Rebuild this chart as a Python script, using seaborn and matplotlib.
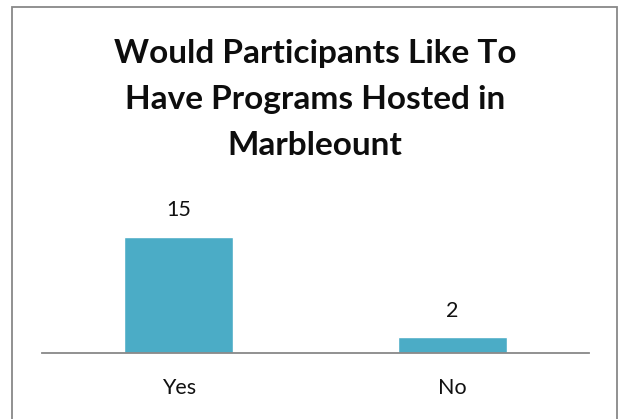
import matplotlib
matplotlib.use("Agg")
import matplotlib.pyplot as plt
import seaborn as sns
from matplotlib.patches import Rectangle

categories = ["Yes", "No"]
values = [15, 2]
title_lines = ["Would Participants Like To", "Have Programs Hosted in", "Marbleount"]

sns.set_style("white")
plt.rcParams['font.family'] = ['Lato', 'DejaVu Sans']

W, H = 620, 419
fig = plt.figure(figsize=(W/100, H/100), dpi=100)
base_y = 352.7
ppu = 7.73
ymax = 16
ax = fig.add_axes([42/W, (H-base_y)/H, 547/W, ymax*ppu/H])
sns.barplot(x=categories, y=values, color="#4BACC6", width=0.4, saturation=1, ax=ax)
ax.set_ylim(0, ymax)
ax.set_xlim(-0.5, 1.5)
for s in ["left", "top", "right"]:
    ax.spines[s].set_visible(False)
ax.spines["bottom"].set_color("#888888")
ax.spines["bottom"].set_linewidth(1.3)
ax.set_yticks([])
ax.tick_params(axis="x", length=0, pad=18, labelsize=15.5, labelcolor="#111111")
ax.set_xlabel("")
ax.set_ylabel("")
for c in ax.containers:
    ax.bar_label(c, padding=12, fontsize=15.5, color="#111111", clip_on=False)

for i, line in enumerate(title_lines):
    fig.text(315/W, 1 - (63 + 46*i)/H, line, ha="center", va="baseline",
             fontsize=24, fontweight="bold", color="#0d0d0d")

fig.patches.append(Rectangle((11.5/W, -0.05), (617-11.5)/W, 1.05 - 7.5/H,
                             transform=fig.transFigure, fill=False,
                             edgecolor="#888888", linewidth=1.3))
fig.savefig("out.png", dpi=100)
